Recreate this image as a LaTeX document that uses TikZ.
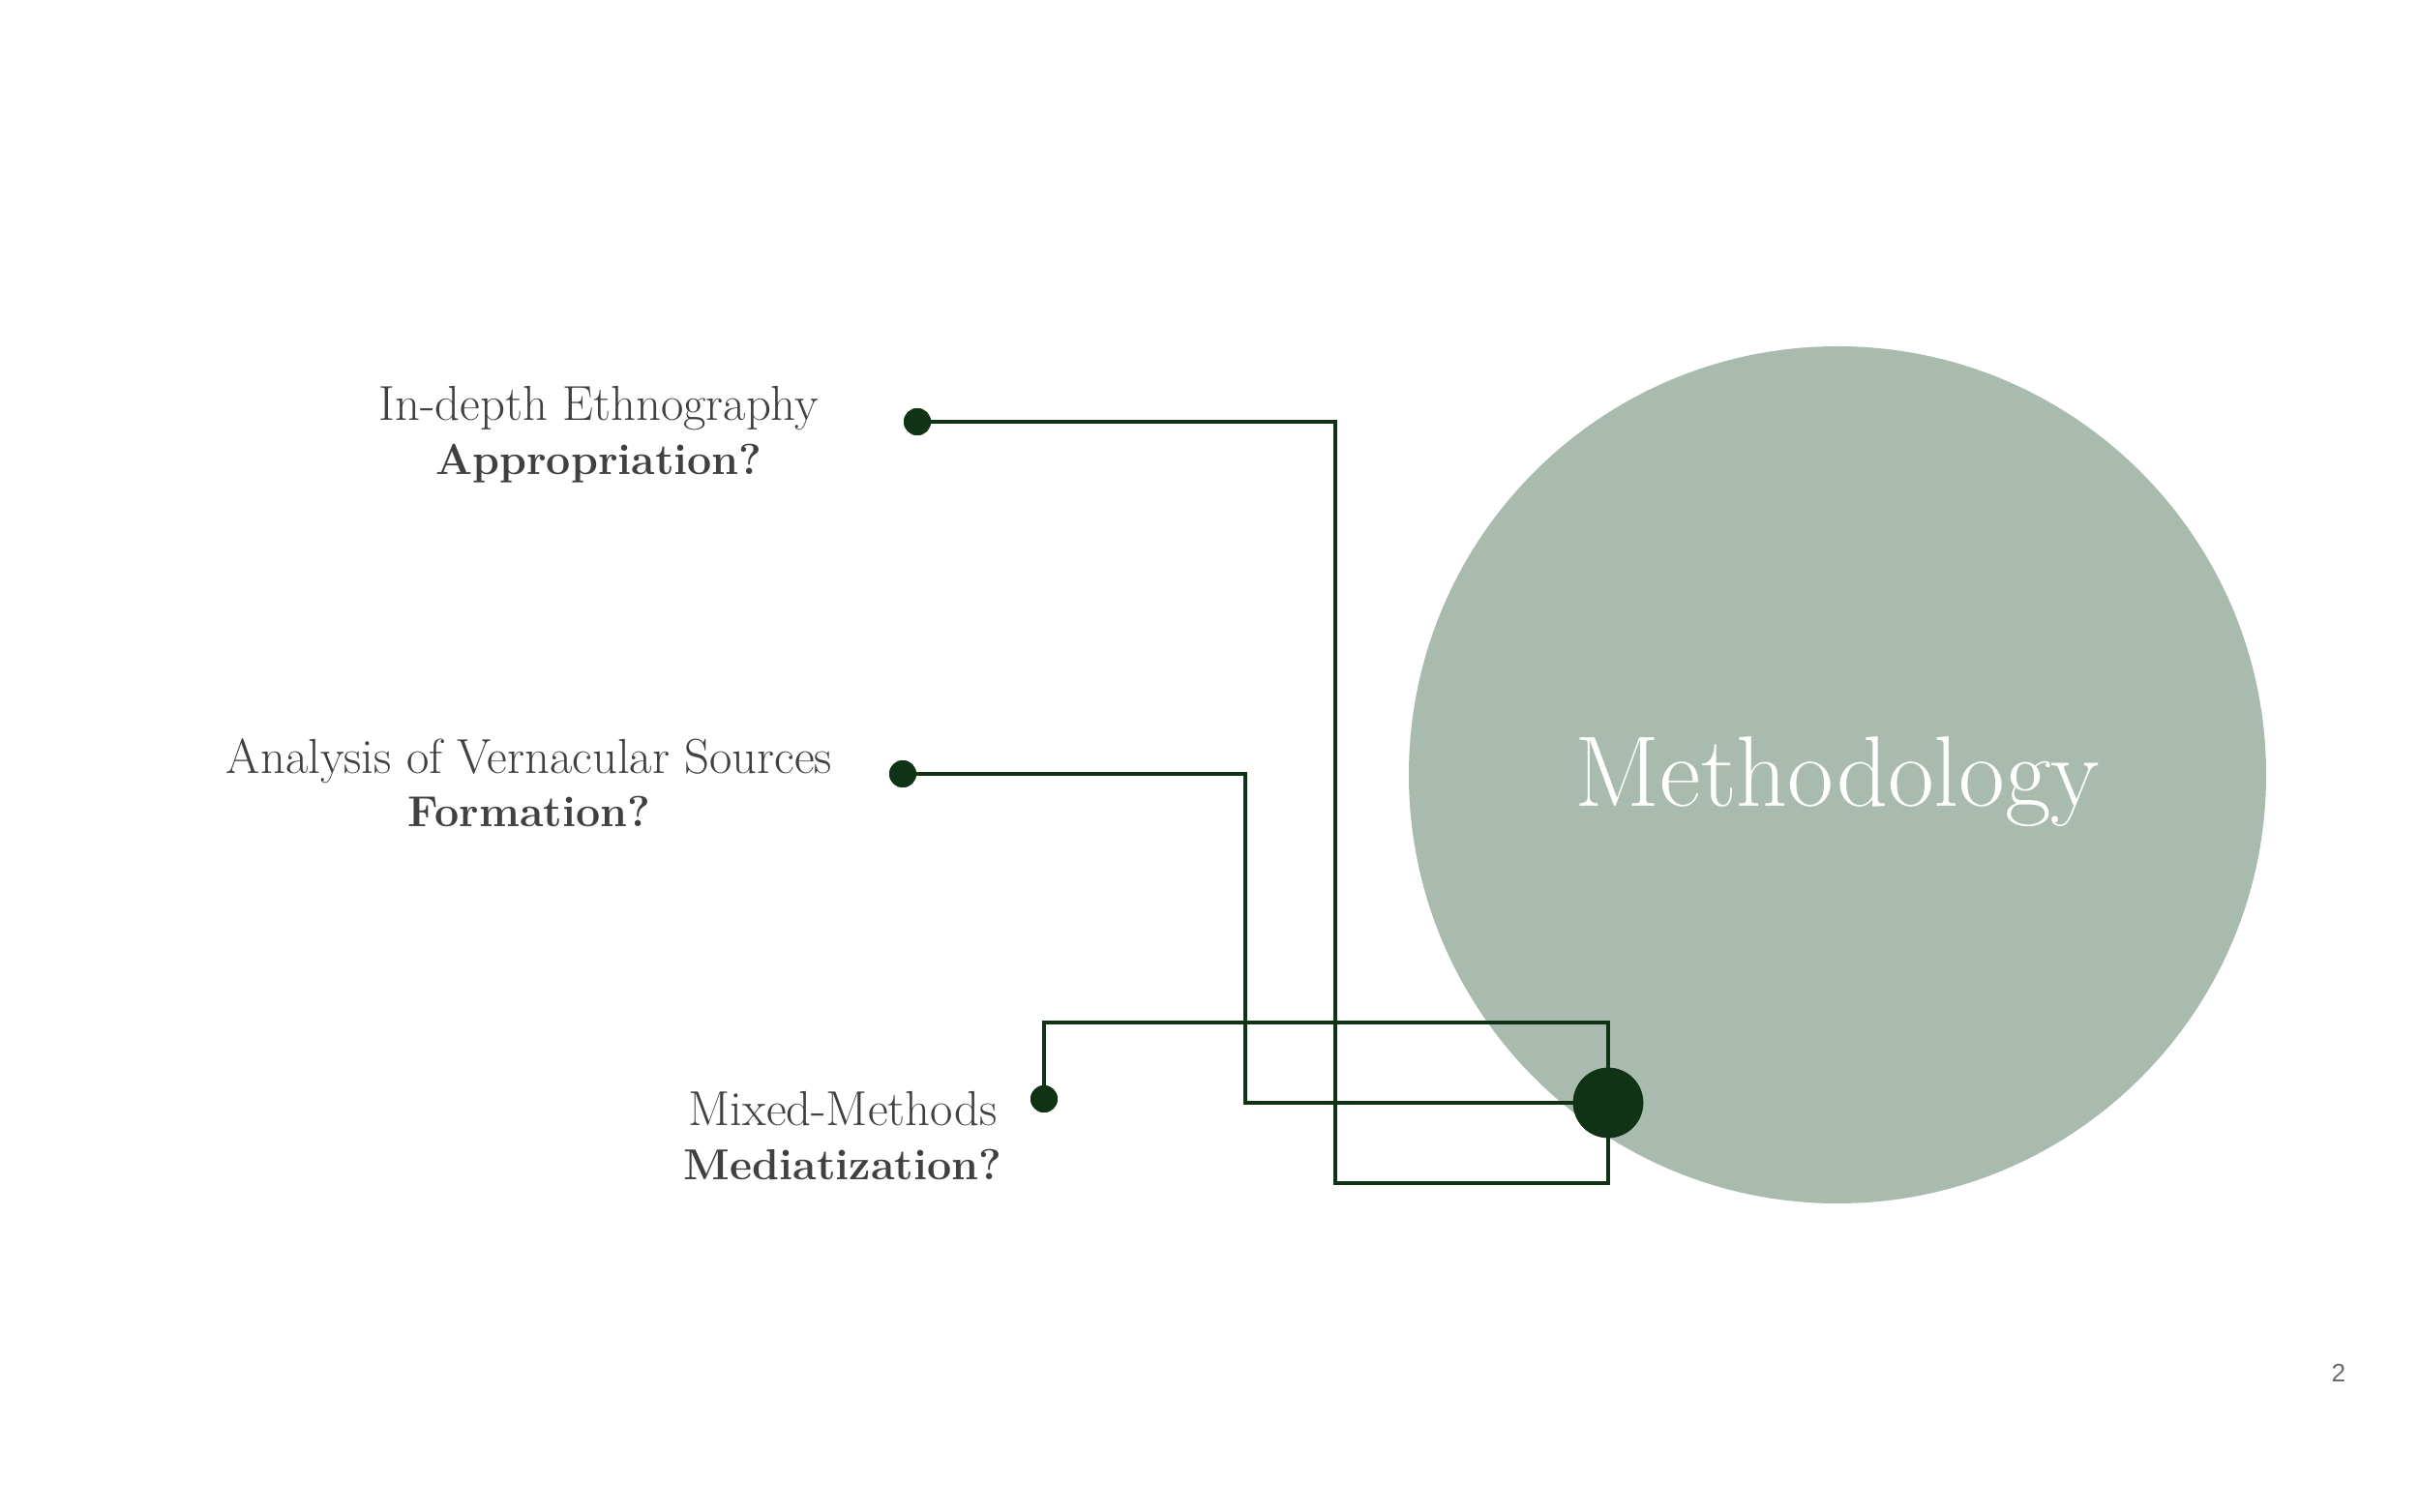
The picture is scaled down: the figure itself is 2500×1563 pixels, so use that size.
\documentclass[tikz,border=0pt]{standalone}
\usepackage{fontspec}
\newfontfamily\pgfont{Liberation Sans}
\definecolor{sage}{HTML}{A8BBAE}
\definecolor{dkgreen}{HTML}{0F3314}
\definecolor{txtgray}{HTML}{404040}
\definecolor{pggray}{HTML}{6B6B6B}
\tikzset{
  wire/.style={draw=dkgreen, line width=1.35pt},
  enddot/.style={circle, fill=dkgreen, inner sep=0pt, minimum size=11.2pt},
  hubdot/.style={circle, fill=dkgreen, inner sep=0pt, minimum size=29pt},
  lbl/.style={anchor=base, inner sep=0pt, text=txtgray, font=\fontsize{20.3}{22}\selectfont},
  lblb/.style={lbl, font=\fontsize{17.9}{22}\selectfont\bfseries},
}
\begin{document}
\begin{tikzpicture}[x=0.4pt,y=-0.4pt]
\useasboundingbox (0,0) rectangle (2500,1563);
% big circle
\node[circle, fill=sage, inner sep=0pt, minimum size=354.4pt] (main) at (1899,801) {};
\node[anchor=base, inner sep=0pt, text=white, font=\fontsize{41.5}{44}\selectfont] (title) at (1899,834) {Methodology};
% dots
\node[hubdot] (hub) at (1662,1140) {};
\node[enddot] (d1) at (948,436) {};
\node[enddot] (d2) at (933,800) {};
\node[enddot] (d3) at (1079,1136) {};
\coordinate (c1) at (1380,1223);
\coordinate (c2) at (1287,1140);
\coordinate (c3) at (1662,1057);
% connectors
\draw[wire] (d1.center) -| (c1) -| (hub.center);
\draw[wire] (d2.center) -| (c2) -- (hub.center);
\draw[wire] (d3.center) |- (c3) -- (hub.center);
\node[enddot] at (d1) {};
\node[enddot] at (d2) {};
\node[enddot] at (d3) {};
\node[hubdot] at (hub) {};
% labels
\node[lbl] (t1a) at (619,435) {In-depth Ethnography};
\node[lblb] (t1b) at (619,491) {Appropriation?};
\node[lbl] (t2a) at (547,800) {Analysis of Vernacular Sources};
\node[lblb] (t2b) at (547,855) {Formation?};
\node[lbl] (t3a) at (871,1163) {Mixed-Methods};
\node[lblb] (t3b) at (871,1219) {Mediatization?};
% page number
\node[anchor=base, inner sep=0pt, text=pggray, font=\fontsize{10.5}{12}\selectfont\pgfont] (pg) at (2417,1428) {2};
\end{tikzpicture}
\end{document}
